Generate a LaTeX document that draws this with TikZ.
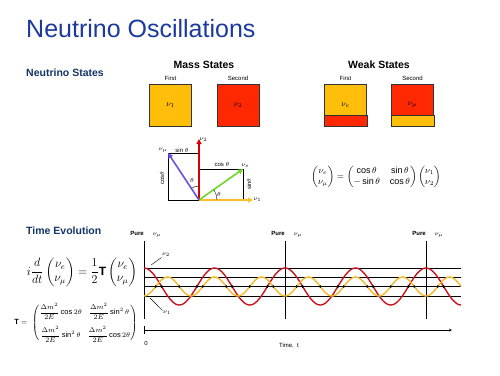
\documentclass[tikz,border=0pt]{standalone}
\usepackage{amsmath}
\usepackage{fontspec}
\setmainfont{Liberation Sans}
\usetikzlibrary{arrows.meta, positioning, calc}
\definecolor{titleblue}{RGB}{28,58,158}
\definecolor{headblue}{RGB}{18,52,102}
\definecolor{stateorange}{RGB}{255,190,10}
\definecolor{statered}{RGB}{255,40,0}
\definecolor{wavered}{RGB}{200,20,30}
\definecolor{waveorange}{RGB}{245,185,40}
\definecolor{vecpurple}{RGB}{110,80,230}
\definecolor{vecgreen}{RGB}{110,215,40}
\definecolor{vecred}{RGB}{215,0,0}
\definecolor{vecorange}{RGB}{250,190,40}
\tikzset{
    heading/.style={font=\bfseries\fontsize{10.5}{12}\selectfont, text=headblue, anchor=base west, inner sep=0pt},
    group/.style={font=\bfseries\fontsize{10.5}{12}\selectfont, anchor=base, inner sep=0pt},
    small/.style={font=\fontsize{6}{7}\selectfont, inner sep=0.5pt},
    statebox/.style={rectangle, draw=black!80, minimum width=42pt, minimum height=42pt, inner sep=0pt, font=\fontsize{8}{9}\selectfont},
    vec/.style={-{Triangle[length=5pt,width=5pt]}, line width=1.6pt},
    guide/.style={draw, thin},
    level/.style={draw, thin},
    wave/.style={line width=1.4pt, smooth, samples=200},
    dotmark/.style={circle, fill=black, inner sep=0pt, minimum size=2.8pt},
    arrow/.style={thin,->,>=stealth}
}
\begin{document}
\begin{tikzpicture}[x=1pt, y=-1pt]
    \useasboundingbox (0,0) rectangle (500,375);
    % title and headings
    \node (title) [anchor=base west, font=\fontsize{25}{30}\selectfont, text=titleblue, inner sep=0pt] at (26,37) {Neutrino Oscillations};
    \node (states) [heading] at (26,76) {Neutrino States};
    \node (evol) [heading] at (26,234) {Time Evolution};

    % state boxes
    \node (m1) [statebox, fill=stateorange] at (170.5,105) {$\nu_1$};
    \node (m2) [statebox, fill=statered] at (238,105) {$\nu_2$};
    \node (w1) [statebox, fill=stateorange] at (345.5,105) {$\nu_e$};
    \node (w2) [statebox, fill=statered] at (412.5,105) {$\nu_\mu$};
    \filldraw [fill=statered, draw=black!80] (w1.south west) rectangle ([yshift=11pt]w1.south east);
    \filldraw [fill=stateorange, draw=black!80] (w2.south west) rectangle ([yshift=11pt]w2.south east);
    \node (m1cap) [small, above=3pt of m1] {First};
    \node (m2cap) [small, above=3pt of m2] {Second};
    \node (w1cap) [small, above=3pt of w1] {First};
    \node (w2cap) [small, above=3pt of w2] {Second};
    \node (mass) [group] at (204,68) {Mass States};
    \node (weak) [group] at (379,68) {Weak States};

    % rotation picture
    \coordinate (O) at (199,200);
    \coordinate (t1) at (253,200);
    \coordinate (t2) at (199,139);
    \coordinate (te) at (243,169);
    \coordinate (tm) at (168,153);
    \draw [guide] (tm) -- (tm -| O);
    \draw [guide] (tm) -- (tm |- O) -- (O);
    \draw [guide] (te -| O) -- (te) -- (te |- O);
    \draw [vec, vecorange] (O) -- (t1);
    \draw [vec, vecred] (O) -- (t2);
    \draw [vec, vecgreen] (O) -- (te);
    \draw [vec, vecpurple] (O) -- (tm);
    \draw [thin] ($(O)!14pt!(t2)$) arc (270:236.6:14);
    \draw [thin] ($(O)!18pt!(t1)$) arc (0:-35:18);
    \node (l1) [small, right=0pt of t1] {$\nu_1$};
    \node (l2) [small, anchor=west] at (199,140) {$\nu_2$};
    \node (le) [small, anchor=south west] at (241,168) {$\nu_e$};
    \node (lm) [small, anchor=south east] at (168,153) {$\nu_\mu$};
    \node (sinm) [small] at (182,150) {sin $\theta$};
    \node (cose) [small] at (222,164) {cos $\theta$};
    \node (cosm) [small, rotate=90] at (162,178) {cos$\theta$};
    \node (sine) [small, rotate=90] at (249,184) {sin$\theta$};
    \node (thm) [small] at (192,180) {$\theta$};
    \node (the) [small] at (219,194) {$\theta$};

    % mixing matrix
    \node (mix) [font=\fontsize{9}{11}\selectfont] at (376,177)
        {$\begin{pmatrix}\nu_e\\ \nu_\mu\end{pmatrix}=\begin{pmatrix}\cos\theta & \sin\theta\\ -\sin\theta & \cos\theta\end{pmatrix}\begin{pmatrix}\nu_1\\ \nu_2\end{pmatrix}$};

    % evolution equations
    \node (schrod) [font=\fontsize{12}{14}\selectfont] at (82,272)
        {$i\dfrac{d}{dt}\begin{pmatrix}\nu_e\\ \nu_\mu\end{pmatrix}=\dfrac{1}{2}\mathbf{T}\begin{pmatrix}\nu_e\\ \nu_\mu\end{pmatrix}$};
    \node (tmat) [font=\fontsize{7.5}{9}\selectfont, inner sep=0pt] at (76,323)
        {\setlength\arraycolsep{3pt}$\mathbf{T}=\;\begin{pmatrix}\dfrac{\Delta m^2}{2E}\cos2\theta & \dfrac{\Delta m^2}{2E}\sin^2\theta\\[9pt] \dfrac{\Delta m^2}{2E}\sin^2\theta & \dfrac{\Delta m^2}{2E}\cos2\theta\end{pmatrix}$};

    % oscillation plot
    \foreach \px [count=\i] in {144,285,426} {
        \draw (\px,241) -- (\px,319);
        \node (pure\i) [small, font=\bfseries\fontsize{6}{7}\selectfont, anchor=base] at (\px-7,235) {Pure};
        \node (mu\i) [small, anchor=base] at (\px+13,235) {$\nu_\mu$};
    }
    \foreach \ly in {268,277,286.5,296}
        \draw [level] (144,\ly) -- (461,\ly);
    \draw [wave, wavered, domain=0:317] plot ({144+\x}, {286.5-18.5*cos(5.10638*\x)});
    \draw [wave, waveorange, domain=0:317] plot ({144+\x}, {286.5+9.5*cos(7.65957*\x)});
    \foreach \k in {0,...,8}
        \node [dotmark] at ({161.625+35.25*\k},286.5) {};
    \foreach \k in {0,...,12}
        \node [dotmark] at ({155.75+23.5*\k},286.5) {};
    \node (lw2) [small] at (166,255) {$\nu_2$};
    \node (lw1) [small] at (167,313) {$\nu_1$};
    \coordinate (p2) at (151,265);
    \coordinate (p1) at (150,298);
    \draw [thin] (p2) -- (lw2.south west);
    \draw [thin] (p1) -- (lw1.north west);

    % time axis
    \coordinate (t0) at (144,330);
    \coordinate (tend) at (452,330);
    \draw [arrow] (t0) -- (tend);
    \draw (144,326) -- (144,334);
    \node (zero) [small] at (146,343) {0};
    \node (time) [small] at (289,346) {Time,\ \ t};
\end{tikzpicture}
\end{document}
